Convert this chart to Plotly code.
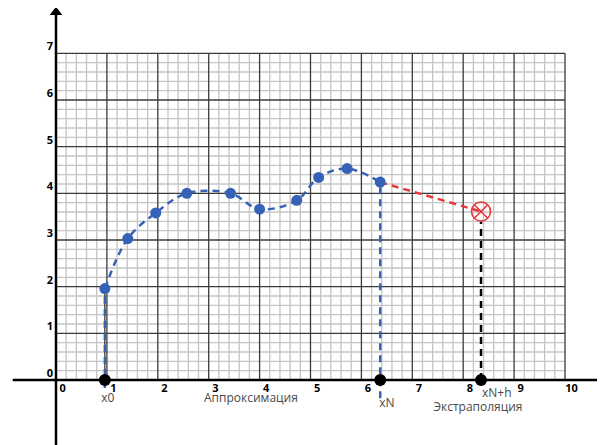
import plotly.graph_objects as go

# ---- data ----
approx_x = [0.96, 1.41, 1.96, 2.57, 3.43, 4.0, 4.73, 5.16, 5.72, 6.37]
approx_y = [1.96, 3.03, 3.58, 4.00, 4.00, 3.66, 3.85, 4.34, 4.53, 4.24]
extrap_x = 8.35
extrap_y = 3.61
x_ticks = list(range(0, 11))
y_ticks = list(range(0, 8))
x_tick_labels = [str(v) for v in x_ticks]
y_tick_labels = [str(v) for v in y_ticks]
label_texts = ["x0", "Аппроксимация", "xN", "xN+h", "Экстраполяция"]

X_MAX, Y_MAX = 10, 7
BLUE = "#3562b6"
RED = "#e8383a"

fig = go.Figure()

def grid_trace(vals_x, vals_y, color, width):
    xs, ys = [], []
    for v in vals_x:
        xs += [v, v, None]
        ys += [0, Y_MAX, None]
    for v in vals_y:
        xs += [0, X_MAX, None]
        ys += [v, v, None]
    return go.Scatter(x=xs, y=ys, mode="lines", line=dict(color=color, width=width),
                      hoverinfo="skip")

minor_x = [i / 5 for i in range(0, X_MAX * 5 + 1) if i % 5 != 0]
minor_y = [i / 5 for i in range(0, Y_MAX * 5 + 1) if i % 5 != 0]
fig.add_trace(grid_trace(minor_x, minor_y, "#c4c4c4", 1.3))
fig.add_trace(grid_trace(x_ticks[1:], y_ticks[1:], "#3a3a3a", 1.3))

# axes lines
fig.add_trace(go.Scatter(x=[-0.85, 10.75], y=[0, 0], mode="lines",
                         line=dict(color="black", width=2.5), hoverinfo="skip"))
fig.add_trace(go.Scatter(x=[0, 0], y=[-1.5, 7.85], mode="lines",
                         line=dict(color="black", width=2.5), hoverinfo="skip"))
fig.add_trace(go.Scatter(x=[10.7], y=[0], mode="markers",
                         marker=dict(symbol="triangle-right", size=11, color="black"),
                         hoverinfo="skip"))
fig.add_trace(go.Scatter(x=[0], y=[7.88], mode="markers",
                         marker=dict(symbol="triangle-up", size=11, color="black"),
                         hoverinfo="skip"))

# tick labels
fig.add_trace(go.Scatter(x=[v + 0.13 for v in x_ticks], y=[-0.20] * len(x_ticks),
                         mode="text", text=["<b>%s</b>" % t for t in x_tick_labels],
                         textfont=dict(family="Open Sans", size=11, color="black"),
                         hoverinfo="skip"))
fig.add_trace(go.Scatter(x=[-0.12] * len(y_ticks), y=[v + 0.12 for v in y_ticks],
                         mode="text", text=["<b>%s</b>" % t for t in y_tick_labels],
                         textfont=dict(family="Open Sans", size=11, color="black"),
                         hoverinfo="skip"))

x0, y0 = approx_x[0], approx_y[0]
xN, yN = approx_x[-1], approx_y[-1]

# vertical guide lines
fig.add_trace(go.Scatter(x=[x0, x0], y=[0, y0], mode="lines",
                         line=dict(color="black", width=1), hoverinfo="skip"))
fig.add_trace(go.Scatter(x=[x0, x0], y=[-0.17, y0], mode="lines",
                         line=dict(color=BLUE, width=2.5, dash="7px,5px"), hoverinfo="skip"))
fig.add_trace(go.Scatter(x=[xN, xN], y=[-0.39, yN], mode="lines",
                         line=dict(color=BLUE, width=2.5, dash="7px,5px"), hoverinfo="skip"))
fig.add_trace(go.Scatter(x=[extrap_x, extrap_x], y=[0, extrap_y - 0.22], mode="lines",
                         line=dict(color="black", width=2.5, dash="7px,5px"), hoverinfo="skip"))

# approximation curve
fig.add_trace(go.Scatter(x=approx_x, y=approx_y, mode="lines",
                         line=dict(color=BLUE, width=2.5, dash="7px,5px", shape="spline",
                                   smoothing=1.0), hoverinfo="skip"))
# extrapolation line
fig.add_trace(go.Scatter(x=[xN, extrap_x], y=[yN, extrap_y], mode="lines",
                         line=dict(color=RED, width=2.5, dash="7px,5px"), hoverinfo="skip"))
fig.add_trace(go.Scatter(x=approx_x, y=approx_y, mode="markers",
                         marker=dict(size=11, color=BLUE), hoverinfo="skip"))
fig.add_trace(go.Scatter(x=[extrap_x], y=[extrap_y], mode="markers",
                         marker=dict(symbol="circle-x-open", size=19, color=RED,
                                     line=dict(width=1.6, color=RED)),
                         hoverinfo="skip"))
# axis points
fig.add_trace(go.Scatter(x=[x0, xN, extrap_x], y=[0, 0, 0], mode="markers",
                         marker=dict(size=12, color="black"), hoverinfo="skip"))

# text labels
lab_x = [1.02, 3.83, 6.50, 8.66, 8.29]
lab_y = [-0.41, -0.41, -0.52, -0.31, -0.59]
fig.add_trace(go.Scatter(x=lab_x, y=lab_y, mode="text", text=label_texts,
                         textfont=dict(family="Open Sans", size=12, color="#4a4a4a"),
                         hoverinfo="skip"))

# the page body adds an 8px offset; compensate so marks land where the reference has them
OFF = 8
W, H = 605 - OFF, 445 - OFF
PX_X0, PX_Y0 = 56 - OFF, 380 - OFF
UX, UY = 50.9, 46.67
fig.update_layout(
    width=W, height=H,
    margin=dict(l=0, r=0, t=0, b=0),
    paper_bgcolor="white", plot_bgcolor="white",
    showlegend=False,
    xaxis=dict(range=[-PX_X0 / UX, (W - PX_X0) / UX], visible=False, fixedrange=True),
    yaxis=dict(range=[-(H - PX_Y0) / UY, PX_Y0 / UY], visible=False, fixedrange=True),
)

fig.write_html("out.html")
